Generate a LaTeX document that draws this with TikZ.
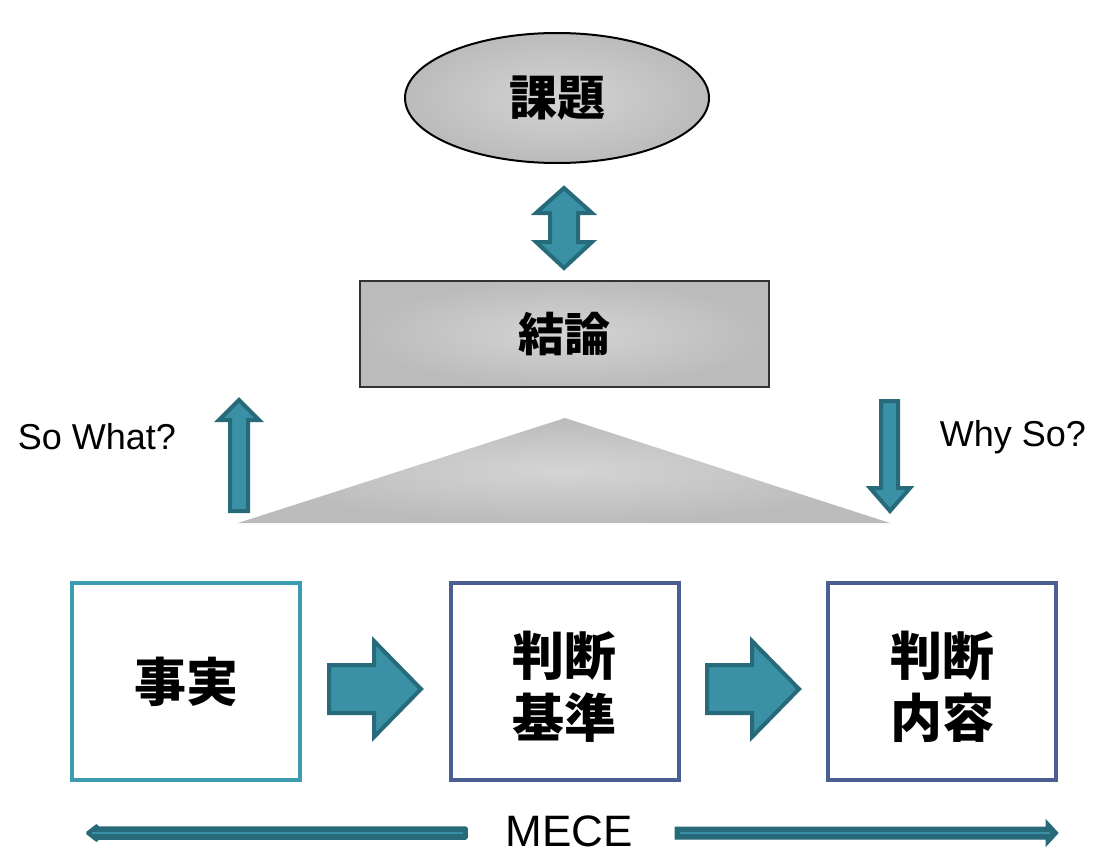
\documentclass[tikz,border=0pt]{standalone}
\usepackage{fontspec}
\setmainfont{Liberation Sans}
\newfontfamily\cjk{Noto Sans CJK JP}
\usetikzlibrary{shapes.geometric}
\definecolor{tealfill}{HTML}{3A90A4}
\definecolor{tealdark}{HTML}{276A7A}
\definecolor{boxteal}{HTML}{3C9BAE}
\definecolor{boxnavy}{HTML}{4B5E92}
\definecolor{grayin}{HTML}{D4D4D4}
\definecolor{grayout}{HTML}{BBBBBB}
\tikzset{
  shadedgray/.style={inner color=grayin, outer color=grayout},
  blockarrow/.style={fill=tealfill, draw=tealdark, line width=4pt, line join=miter},
  mecearrow/.style={fill=tealdark, draw=tealdark, line width=1.5pt, rounded corners=1.5pt},
  meceinner/.style={draw=tealfill, line width=2.5pt},
  cjktext/.style={font=\cjk\bfseries\fontsize{52}{62}\selectfont, align=center, text=black},
  stepbox/.style={draw, line width=4pt, fill=white, minimum width=228pt, minimum height=197pt, inner sep=0pt},
  sidelabel/.style={font=\fontsize{36}{40}\selectfont, text=black}
}
\begin{document}
\begin{tikzpicture}[x=1pt, y=-1pt]
\useasboundingbox (0,0) rectangle (1093,854);

% issue ellipse
\node[ellipse, shadedgray, draw=black, line width=2pt, minimum width=304pt, minimum height=130pt, inner sep=0pt,
      font=\cjk\bfseries\fontsize{48}{56}\selectfont] (issue) at (557,98) {課題};

% double arrow between issue and conclusion
\draw[blockarrow] (564,188) -- (592,213) -- (578,213) -- (578,242) -- (592,242) -- (564,268)
   -- (536,242) -- (550,242) -- (550,213) -- (536,213) -- cycle;

% conclusion box
\node[rectangle, shadedgray, draw=black!80, line width=2pt, minimum width=409pt, minimum height=106pt, inner sep=0pt,
      font=\cjk\bfseries\fontsize{46}{54}\selectfont] (concl) at (564.5,334) {結論};

% triangle
\coordinate (apex) at (565,418);
\coordinate (bl) at (238,523);
\coordinate (br) at (890,523);
\shade[inner color=grayin, outer color=grayout] (apex) -- (br) -- (bl) -- cycle;

% So What? up arrow
\draw[blockarrow] (239,400) -- (259,420) -- (248,420) -- (248,511) -- (230,511) -- (230,420) -- (219,420) -- cycle;
% Why So? down arrow
\draw[blockarrow] (890,511) -- (910,488) -- (898,488) -- (898,401) -- (881,401) -- (881,488) -- (870,488) -- cycle;

\node[sidelabel] (sowhat) at (97,437) {So What?};
\node[sidelabel] (whyso) at (1013,437) {Why So?};

% boxes
\node[stepbox, draw=boxteal] (fact) at (186,681.5) {};
\node[stepbox, draw=boxnavy] (crit) at (564.5,681.5) {};
\node[stepbox, draw=boxnavy] (judge) at (942,681.5) {};
\node[cjktext] (factt) at (fact) {事実};
\node[cjktext] (critt) at (564.5,687) {判断\\基準};
\node[cjktext] (judget) at (942,687) {判断\\内容};

% block arrows between boxes
\draw[blockarrow] (329,665) -- (374,665) -- (374,641) -- (421,689) -- (374,737) -- (374,713) -- (329,713) -- cycle;
\draw[blockarrow] (707,665) -- (752,665) -- (752,641) -- (799,689) -- (752,737) -- (752,713) -- (707,713) -- cycle;

% MECE
\node[font=\fontsize{44}{48}\selectfont, inner sep=0pt] (mece) at (569,831) {MECE};
\coordinate (ml) at (86,833);
\coordinate (mr) at (1058,833);
\draw[mecearrow] (467,827) -- (97,827) -- (97,824.5) -- (ml) -- (97,841.5) -- (97,839) -- (467,839) -- cycle;
\draw[meceinner] (463,833) -- (92,833);
\draw[fill=tealdark, draw=tealdark, line width=1pt] (675,827) -- (1046,827) -- (1046,820) -- (mr) -- (1046,846) -- (1046,839) -- (675,839) -- cycle;
\draw[meceinner] (680,833) -- (1050,833);
\end{tikzpicture}
\end{document}
